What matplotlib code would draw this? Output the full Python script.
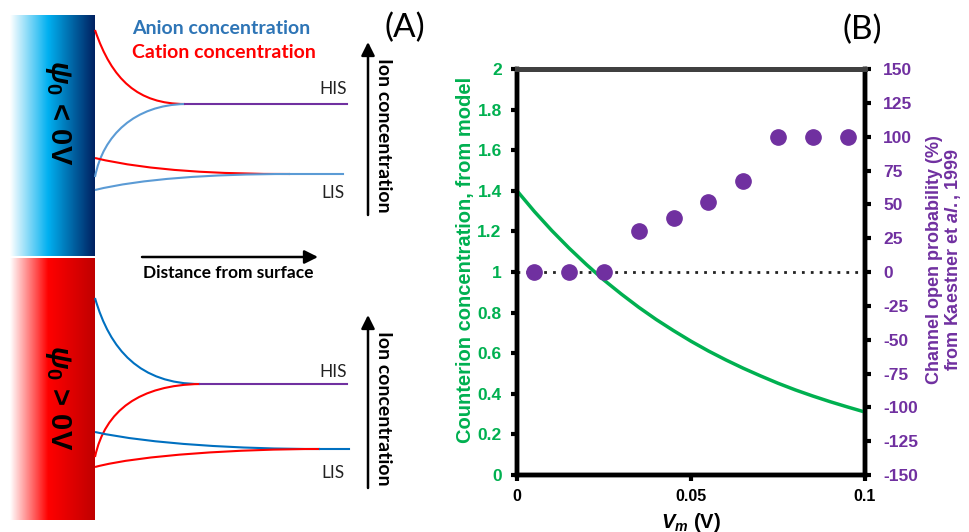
import numpy as np
import matplotlib
matplotlib.use("Agg")
import matplotlib.pyplot as plt
from matplotlib.path import Path
from matplotlib.patches import PathPatch, FancyArrowPatch
from matplotlib.colors import LinearSegmentedColormap

# ---------------- data ----------------
# Panel B: model curve (green) and measured open probability (purple)
vm_model = [0.0, 0.005, 0.01, 0.015, 0.02, 0.025, 0.03, 0.035, 0.04, 0.045, 0.05,
            0.055, 0.06, 0.065, 0.07, 0.075, 0.08, 0.085, 0.09, 0.095, 0.1]
conc_model = [1.400, 1.298, 1.204, 1.117, 1.036, 0.960, 0.891, 0.826, 0.766, 0.711, 0.659,
              0.611, 0.567, 0.526, 0.488, 0.452, 0.419, 0.389, 0.361, 0.335, 0.310]
vm_exp = [0.005, 0.015, 0.025, 0.035, 0.045, 0.055, 0.065, 0.075, 0.085, 0.095]
popen_exp = [0, 0, 0, 30, 40, 52, 67, 100, 100, 100]
left_ticks = [0, 0.2, 0.4, 0.6, 0.8, 1, 1.2, 1.4, 1.6, 1.8, 2]
left_ticklabels = ["0", "0.2", "0.4", "0.6", "0.8", "1", "1.2", "1.4", "1.6", "1.8", "2"]
right_ticks = [-150, -125, -100, -75, -50, -25, 0, 25, 50, 75, 100, 125, 150]
x_ticks = [0, 0.05, 0.1]
x_ticklabels = ["0", "0.05", "0.1"]

# Panel A: schematic concentration profiles (cubic Bezier: start, ctrl1, ctrl2, end)
top_curves = {
    "cation_his": [(95, 30), (112, 80), (138, 104), (185, 104)],
    "anion_his": [(95, 177), (103, 135), (135, 105), (185, 104)],
    "cation_lis": [(95, 158), (150, 171), (220, 174), (290, 174)],
    "anion_lis": [(95, 190), (140, 179), (210, 174), (290, 174)],
}
bot_curves = {
    "anion_his": [(95, 298), (110, 350), (140, 384), (200, 384)],
    "cation_his": [(95, 457), (105, 410), (140, 385), (200, 384)],
    "anion_lis": [(95, 432), (150, 444), (240, 449), (320, 449)],
    "cation_lis": [(95, 467), (140, 455), (240, 449), (320, 449)],
}

GREEN = "#00b050"
PURPLE = "#7030a0"
RED = "#ff0000"
BLUE_L = "#5b9bd5"
BLUE_D = "#0070c0"

plt.rcParams["mathtext.fontset"] = "custom"
plt.rcParams["mathtext.rm"] = "Liberation Sans:bold"
plt.rcParams["mathtext.bf"] = "Liberation Sans:bold"
plt.rcParams["mathtext.it"] = "Liberation Sans:italic:bold"

fig = plt.figure(figsize=(9.69, 5.32), dpi=100)

# ---------------- Panel A ----------------
axA = fig.add_axes([0, 0, 440 / 969, 1])
axA.set_xlim(0, 440)
axA.set_ylim(532, 0)
axA.axis("off")

grad = np.linspace(0, 1, 256).reshape(1, -1)
cm_blue = LinearSegmentedColormap.from_list("b", [(0, "#ffffff"), (0.45, "#00b0f0"), (1, "#002060")])
cm_red = LinearSegmentedColormap.from_list("r", [(0, "#ffffff"), (0.45, "#ff0000"), (1, "#c00000")])
axA.imshow(grad, cmap=cm_blue, extent=(10, 95, 256, 15), aspect="auto", zorder=1)
axA.imshow(grad, cmap=cm_red, extent=(10, 95, 520, 258), aspect="auto", zorder=1)


def bez(ax, pts, color):
    path = Path(pts, [Path.MOVETO, Path.CURVE4, Path.CURVE4, Path.CURVE4])
    ax.add_patch(PathPatch(path, fill=False, edgecolor=color, lw=1.5, zorder=3))


bez(axA, top_curves["cation_his"], RED)
bez(axA, top_curves["anion_his"], BLUE_L)
bez(axA, top_curves["cation_lis"], RED)
bez(axA, top_curves["anion_lis"], BLUE_L)
axA.plot([185, 347], [104, 104], color=PURPLE, lw=1.5, zorder=3)
axA.plot([290, 343], [174, 174], color=BLUE_L, lw=1.5, zorder=3)

bez(axA, bot_curves["anion_his"], BLUE_D)
bez(axA, bot_curves["cation_his"], RED)
bez(axA, bot_curves["anion_lis"], BLUE_D)
bez(axA, bot_curves["cation_lis"], RED)
axA.plot([200, 347], [384, 384], color=PURPLE, lw=1.5, zorder=3)
axA.plot([320, 349], [449, 449], color=BLUE_D, lw=1.5, zorder=3)

fa = "Lato"
axA.text(132, 29, "Anion concentration", color="#2e75b6", fontsize=14, fontweight="bold",
         family=fa, va="center", ha="left")
axA.text(132, 53, "Cation concentration", color=RED, fontsize=14, fontweight="bold",
         family=fa, va="center", ha="left")
axA.text(405, 28, "(A)", fontsize=24, family=fa, va="center", ha="center")

for y in (89, 372):
    axA.text(333, y, "HIS", fontsize=12.5, family=fa, va="center", ha="center", color="#222222")
for y in (193, 473):
    axA.text(333, y, "LIS", fontsize=12.5, family=fa, va="center", ha="center", color="#222222")

axA.text(58, 113, r"$\psi_{0}$ < 0V", rotation=270, fontsize=21, fontweight="bold",
         family="Liberation Sans", va="center", ha="center", color="black")
axA.text(58, 398, r"$\psi_{0}$ > 0V", rotation=270, fontsize=21, fontweight="bold",
         family="Liberation Sans", va="center", ha="center", color="black")

arrow_kw = dict(arrowstyle="-|>,head_length=8,head_width=4", color="black", lw=1.8,
                mutation_scale=1, shrinkA=0, shrinkB=0, zorder=4)
axA.add_patch(FancyArrowPatch((142, 257), (318, 257), **arrow_kw))
axA.add_patch(FancyArrowPatch((368, 215), (368, 42), **arrow_kw))
axA.add_patch(FancyArrowPatch((368, 488), (368, 315), **arrow_kw))
axA.text(228, 273, "Distance from surface", fontsize=12.5, fontweight="bold", family=fa,
         va="center", ha="center")
axA.text(384, 135, "Ion concentration", rotation=270, fontsize=14, fontweight="bold",
         family=fa, va="center", ha="center")
axA.text(384, 408, "Ion concentration", rotation=270, fontsize=14, fontweight="bold",
         family=fa, va="center", ha="center")

# ---------------- Panel B ----------------
L, R, T, B = 517, 865, 69, 475
ax = fig.add_axes([L / 969, (532 - B) / 532, (R - L) / 969, (B - T) / 532])
ax2 = ax.twinx()
ax.set_xlim(0, 0.1)
ax.set_ylim(0, 2)
ax2.set_ylim(-150, 150)

ax.plot(vm_model, conc_model, color=GREEN, lw=2.5, zorder=3, clip_on=False)
ax.plot([0, 0.1], [1, 1], color="#222222", lw=2, linestyle=(0, (1, 2.2)), zorder=2)
ax2.plot(vm_exp, popen_exp, "o", color=PURPLE, markersize=11, zorder=4, clip_on=False)

fb = "Liberation Sans"
ax.set_yticks(left_ticks)
ax.set_yticklabels(left_ticklabels, color=GREEN, fontsize=12.5, fontweight="bold", family=fb)
ax.set_xticks(x_ticks)
ax.set_xticklabels(x_ticklabels, color="black", fontsize=11.5, fontweight="bold", family=fb)
ax2.set_yticks(right_ticks)
ax2.set_yticklabels([str(t) for t in right_ticks], color=PURPLE, fontsize=12.5,
                    fontweight="bold", family=fb)

ax.tick_params(axis="y", direction="out", length=4, width=3, pad=7, color="black")
ax.tick_params(axis="x", direction="out", length=4, width=3, pad=6, color="black")
ax2.tick_params(axis="y", direction="out", length=4, width=3, pad=9, color="black")

for a in (ax, ax2):
    for s in ("left", "right", "bottom"):
        a.spines[s].set_linewidth(3.2)
        a.spines[s].set_color("black")
    a.spines["top"].set_linewidth(3.6)
    a.spines["top"].set_color("#404040")

ax.set_ylabel("Counterion concentration, from model", color=GREEN, fontsize=14.5,
              fontweight="bold", family=fb, va="center")
ax.yaxis.set_label_coords(-0.149, 0.53)
ax2.set_ylabel("Channel open probability (%)\nfrom Kaestner et $\\mathit{al.}$, 1999",
               color=PURPLE, fontsize=13, fontweight="bold", family=fb, rotation=90,
               linespacing=1.0, va="center", ha="center")
ax2.yaxis.set_label_coords(1.228, 0.53)
ax.set_xlabel(r"$\mathit{V}_{\mathit{m}}$ (V)", fontsize=14.5, fontweight="bold", family=fb,
              va="center")
ax.xaxis.set_label_coords(0.5, -0.116)

fig.text(862 / 969, 1 - 30 / 532, "(B)", fontsize=24, family=fa, va="center", ha="center")

fig.savefig("out.png", dpi=100)
